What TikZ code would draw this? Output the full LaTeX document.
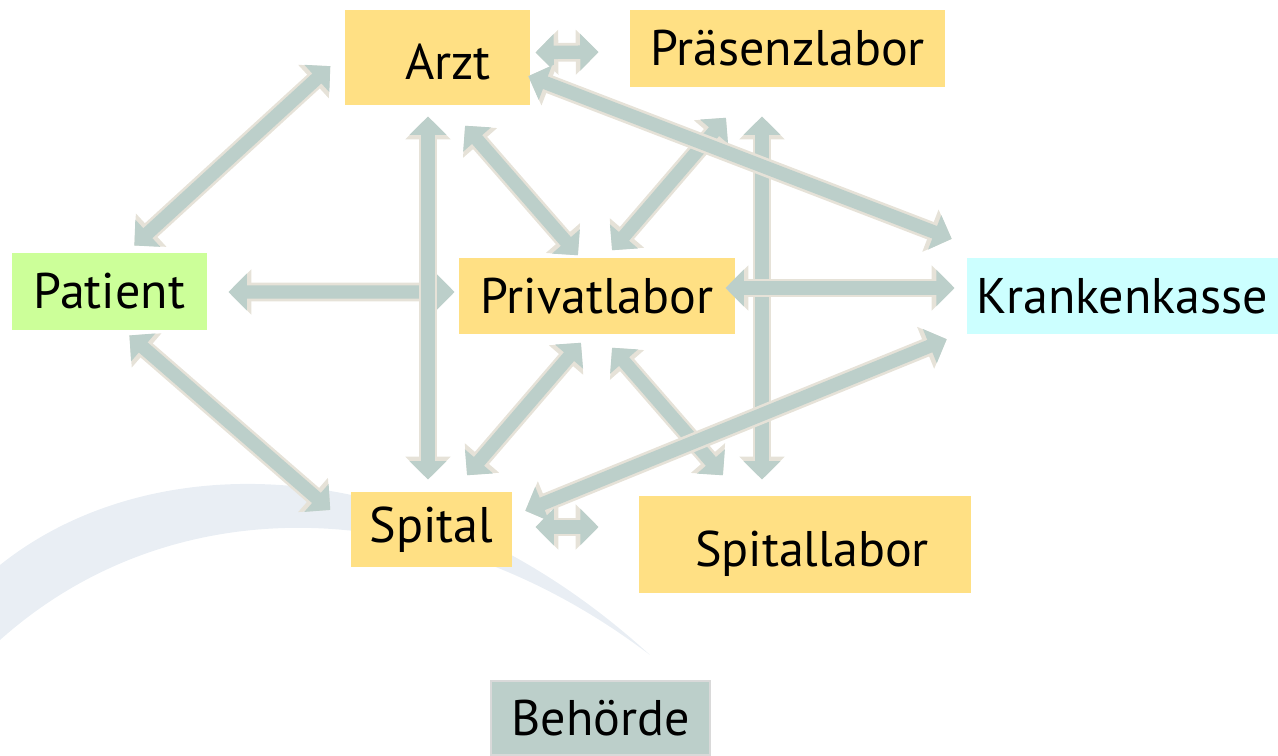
\documentclass[tikz,border=0pt]{standalone}
\usepackage{xcolor}
\usepackage{fontspec}
\setmainfont{PT Sans}
\usetikzlibrary{arrows.meta}

\definecolor{boxorange}{HTML}{FFE084}
\definecolor{boxgreen}{HTML}{CCFF99}
\definecolor{boxcyan}{HTML}{CCFFFF}
\definecolor{linkfill}{HTML}{BCCFCA}
\definecolor{linkedge}{HTML}{E6E2D8}
\definecolor{swoosh}{HTML}{E9EEF4}

\tikzset{
  party/.style={rectangle, inner sep=0pt, text=black,
    font=\fontsize{28.5}{34}\selectfont},
  lab/.style={party, fill=boxorange},
  link/.style={
    preaction={draw=linkedge, line width=10.6pt,
      {Triangle[length=13pt,width=25pt]}-{Triangle[length=13pt,width=25pt]}},
    draw=linkfill, line width=7.6pt, shorten >=1.8pt, shorten <=1.8pt,
    {Triangle[length=10.4pt,width=20.4pt]}-{Triangle[length=10.4pt,width=20.4pt]}}
}

\begin{document}
\begin{tikzpicture}[x=0.02cm,y=-0.02cm]
	\useasboundingbox (0,0) rectangle (1278,755);
	\fill[swoosh] (0,565) .. controls (150,445) and (420,445) .. (650,655)
	  .. controls (430,488) and (170,488) .. (0,640) -- cycle;

	\node[lab, minimum width=3.7cm, minimum height=1.9cm, text height=25pt, text depth=0pt] (arzt) at (437.5,57.5) {\hspace{12pt}Arzt};
	\node[lab, minimum width=6.3cm, minimum height=1.54cm] (praes) at (787.5,48.5) {Präsenzlabor};
	\node[party, fill=boxgreen, minimum width=3.9cm, minimum height=1.54cm] (patient) at (109.5,291.5) {Patient};
	\node[lab, minimum width=5.52cm, minimum height=1.52cm] (privat) at (597,296) {Privatlabor};
	\node[party, fill=boxcyan, minimum width=6.22cm, minimum height=1.52cm] (kasse) at (1122.5,296) {Krankenkasse};
	\node[lab, minimum width=3.22cm, minimum height=1.5cm] (spital) at (431.5,529.5) {Spital};
	\node[lab, minimum width=6.64cm, minimum height=1.94cm, text height=25pt, text depth=0pt] (spitallab) at (805,544.5) {\hspace{8pt}Spitallabor};
	\node[party, fill=linkfill, draw=black!15, line width=1pt, minimum width=4.38cm, minimum height=1.48cm] (behoerde) at (600.5,718) {Behörde};

	\draw[link] ([shift={(2,-5)}]arzt.east) -- ([shift={(-28,3.5)}]praes.west);
	\draw[link] ([shift={(22.5,-5)}]patient.north) -- ([shift={(-12,6.5)}]arzt.west);
	\draw[link] ([shift={(18,0.5)}]patient.east) -- ([shift={(-1,-4)}]privat.west);
	\draw[link] ([shift={(17.5,3)}]patient.south) -- ([shift={(-18,-17.5)}]spital.west);
	\draw[link] ([shift={(-9.5,8)}]arzt.south) -- ([shift={(-3.5,-9)}]spital.north);
	\draw[link] ([shift={(25.5,18)}]arzt.south) -- ([shift={(-17,0)}]privat.north);
	\draw[link] ([shift={(13,-5)}]privat.north) -- ([shift={(-59.5,28)}]praes.south);
	\draw[link] ([shift={(-25.5,26)}]praes.south) -- ([shift={(-43,-13)}]spitallab.north);
	\draw[link] ([shift={(-5,17.5)}]arzt.east) -- ([shift={(-12,-56)}]kasse.west);
	\draw[link] ([shift={(-13,-8)}]privat.east) -- ([shift={(-9,-8)}]kasse.west);
	\draw[link] ([shift={(-14,6)}]privat.south) -- ([shift={(33.5,-14)}]spital.north);
	\draw[link] ([shift={(13,11)}]privat.south) -- ([shift={(-80,-18)}]spitallab.north);
	\draw[link] ([shift={(10,-17.5)}]spital.east) -- ([shift={(-17,42)}]kasse.west);
	\draw[link] ([shift={(20,-2.5)}]spital.east) -- ([shift={(-37,-17.5)}]spitallab.west);
\end{tikzpicture}
\end{document}
